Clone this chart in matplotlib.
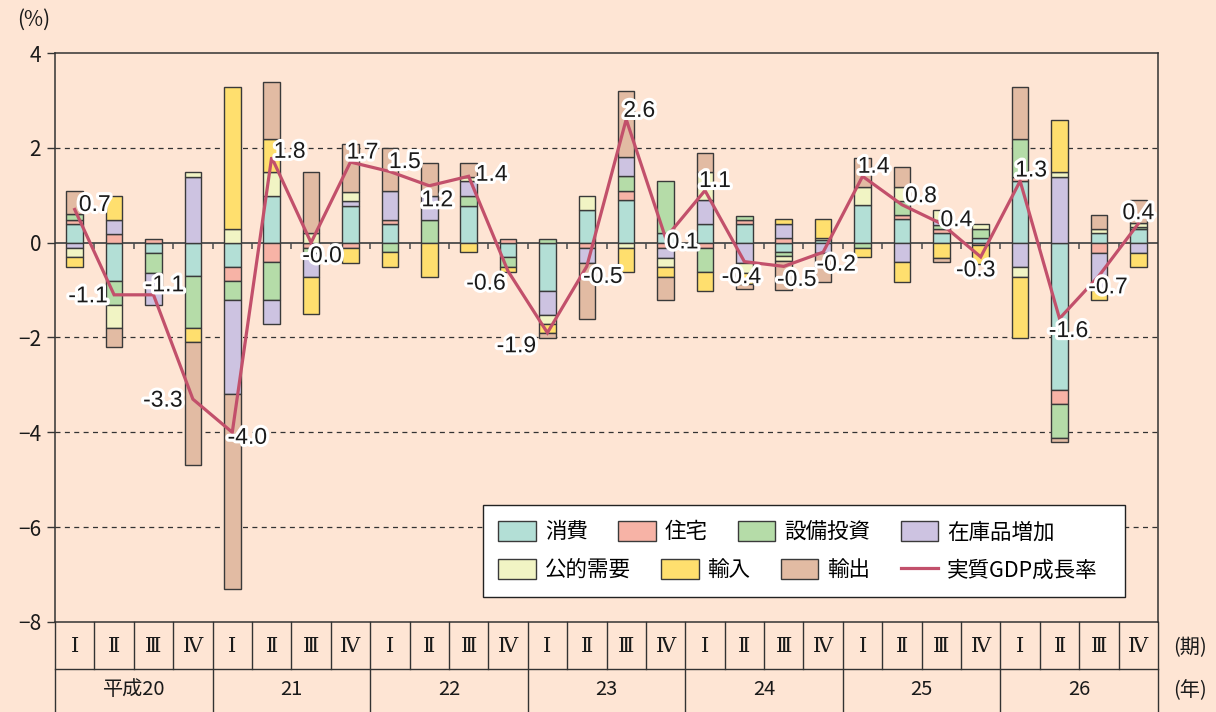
import matplotlib
matplotlib.use('Agg')
import matplotlib.pyplot as plt
from matplotlib.patches import Patch, Rectangle
from matplotlib.lines import Line2D
import matplotlib.patheffects as pe
import numpy as np

plt.rcParams['font.family'] = ['Noto Sans CJK JP', 'DejaVu Sans']

# ---------------- data ----------------
quarters = ['Ⅰ', 'Ⅱ', 'Ⅲ', 'Ⅳ'] * 7
years = ['平成20', '21', '22', '23', '24', '25', '26']

consumption = [0.39, -0.80, -0.21, -0.70, -0.51, 0.99, 0.00, 0.77, 0.39, 0.00, 0.78, -0.31, -1.01, 0.69,
               0.89, 0.20, 0.39, 0.39, -0.19, 0.05, 0.79, 0.49, 0.20, 0.09, 1.29, -3.11, 0.20, 0.28]
housing = [0.08, 0.18, 0.08, 0.00, -0.30, -0.40, -0.12, -0.12, 0.08, 0.00, 0.00, 0.08, 0.00, -0.12,
           0.19, -0.12, -0.12, 0.08, 0.09, 0.00, 0.00, 0.09, 0.08, -0.05, 0.09, -0.30, -0.21, 0.00]
capex = [0.13, -0.51, -0.42, -1.11, -0.40, -0.81, -0.10, 0.00, -0.20, 0.48, 0.21, -0.20, 0.08, 0.00,
         0.32, 1.09, -0.49, 0.10, -0.10, 0.00, -0.12, 0.30, 0.10, 0.20, 0.80, -0.70, 0.00, 0.04]
inventory = [-0.12, 0.30, -0.69, 1.39, -1.99, -0.51, -0.50, 0.11, 0.62, 0.51, 0.30, 0.00, -0.51, -0.30,
             0.40, -0.21, 0.50, -0.43, 0.30, -0.21, 0.00, -0.41, 0.10, 0.00, -0.51, 1.38, -0.79, -0.21]
public = [-0.19, -0.49, 0.00, 0.10, 0.29, 0.49, 0.20, 0.19, 0.00, 0.00, 0.10, 0.00, -0.19, 0.30,
          -0.12, -0.19, 0.61, -0.20, -0.10, 0.05, 0.39, 0.30, 0.21, 0.10, -0.21, 0.10, 0.08, 0.09]
imports = [-0.21, 0.51, 0.00, -0.28, 3.00, 0.70, -0.79, -0.30, -0.32, -0.72, -0.20, -0.10, -0.20, 0.00,
           -0.49, -0.20, -0.40, -0.25, 0.10, 0.40, -0.19, -0.41, -0.33, -0.40, -1.29, 1.11, -0.21, -0.30]
exports = [0.49, -0.39, 0.00, -2.60, -4.11, 1.20, 1.28, 1.01, 0.90, 0.70, 0.30, 0.00, -0.10, -1.20,
           1.39, -0.49, 0.39, -0.10, -0.60, -0.61, 0.60, 0.41, -0.08, 0.00, 1.11, -0.10, 0.30, 0.48]
gdp = [0.7, -1.1, -1.1, -3.3, -4.0, 1.8, -0.0, 1.7, 1.5, 1.2, 1.4, -0.6, -1.9, -0.5,
       2.6, 0.1, 1.1, -0.4, -0.5, -0.2, 1.4, 0.8, 0.4, -0.3, 1.3, -1.6, -0.7, 0.4]

series_names = ['消費', '住宅', '設備投資', '在庫品増加', '公的需要', '輸入', '輸出']
line_name = '実質GDP成長率'

# ---------------- style ----------------
BG = '#FEE5D4'
EC = '#3a3a3a'
colors = ['#B3DFD6', '#F7B3A6', '#B5DCA8', '#CDC3E1', '#F1F4C4', '#FFDF6E', '#E2BBA3']
LINE = '#C2506B'

# label offsets (pixels) relative to each line point
lab_dx = [20, -26, 11, -30, 15, 18, 11, 12, 15, 8, 23, -22, -31, 16, 13, 17, 10, -3, 13, 13, 11, 19, 15, -5, 11, 9, 9, 0]
lab_dy = [5, -1, 10, -1, -5, 6, -13, 10, 10, -14, 2, -12, -13, -10, 9, -4, 10, -15, -13, -12, 10, 9, 4, -13, 11, -12, -11, 11]

W, H = 1216, 712
fig = plt.figure(figsize=(W / 100, H / 100), dpi=100, facecolor=BG)

def fx(px):
    return px / W

def fy(py):
    return 1 - py / H

L, R, T, B = 55, 1158, 53, 622
ax = fig.add_axes([fx(L), fy(B), (R - L) / W, (B - T) / H])
ax.set_facecolor(BG)
n = len(gdp)
x = np.arange(n) + 0.5
ax.set_xlim(0, n)
ax.set_ylim(-8, 4)

# grid
for g in [2, -2, -4, -6]:
    ax.axhline(g, color='#333333', lw=0.9, ls=(0, (4, 3.5)), zorder=1)
ax.axhline(0, color='#4a4a4a', lw=1.3, zorder=2)
ax.vlines(np.arange(1, n), -0.13, 0, color='#4a4a4a', lw=1.1, zorder=2)

# stacked bars
bw = 0.42
pos_base = np.zeros(n)
neg_base = np.zeros(n)
comps = [consumption, housing, capex, inventory, public, imports, exports]
for vals, col in zip(comps, colors):
    v = np.array(vals, dtype=float)
    pm = v > 0
    nm = v < 0
    ax.bar(x[pm], v[pm], bw, bottom=pos_base[pm], color=col, edgecolor=EC, lw=1.0, zorder=3)
    ax.bar(x[nm], v[nm], bw, bottom=neg_base[nm], color=col, edgecolor=EC, lw=1.0, zorder=3)
    pos_base[pm] += v[pm]
    neg_base[nm] += v[nm]

# GDP line
ax.plot(x, gdp, color=LINE, lw=2.3, zorder=5, solid_joinstyle='miter')
for i, v in enumerate(gdp):
    ax.annotate(f"{v:.1f}", xy=(x[i], v), xytext=(lab_dx[i], lab_dy[i]), textcoords='offset pixels',
                ha='center', va='center', fontsize=16.5, family=['Liberation Sans', 'DejaVu Sans'],
                color='#1a1a1a', zorder=6,
                path_effects=[pe.withStroke(linewidth=4.5, foreground='white')])

# axes styling
for s in ax.spines.values():
    s.set_color('#333333')
    s.set_linewidth(1.1)
ax.set_xticks([])
ax.set_yticks(range(-8, 5, 2))
ax.set_yticklabels([str(t).replace('-', '−') for t in range(-8, 5, 2)])
ax.tick_params(axis='y', direction='out', length=6, width=1.0, color='#333333',
               labelsize=15, pad=4, labelcolor='#1a1a1a')

# legend (two rows, frame drawn manually)
fig.patches.append(Rectangle((fx(483), fy(597)), (1125 - 483) / W, (597 - 505) / H,
                             transform=fig.transFigure, facecolor='white', edgecolor='#222222',
                             lw=1.0, zorder=10))
h1 = [Patch(facecolor=colors[k], edgecolor=EC, lw=1.0, label=series_names[k]) for k in range(4)]
h2 = [Patch(facecolor=colors[k], edgecolor=EC, lw=1.0, label=series_names[k]) for k in range(4, 7)]
h2.append(Line2D([0], [0], color=LINE, lw=2.3, label=line_name))
legkw = dict(frameon=False, fontsize=15.5, handlelength=1.75, handleheight=1.07, handletextpad=0.42,
             columnspacing=1.4, borderpad=0, borderaxespad=0, ncol=4)
lg1 = fig.legend(handles=h1, loc='center left', bbox_to_anchor=(fx(498), fy(532)), **legkw)
lg2 = fig.legend(handles=h2, loc='center left', bbox_to_anchor=(fx(498), fy(570)), **legkw)
lg1.set_zorder(11)
lg2.set_zorder(11)

# category table below axes
tax = fig.add_axes([fx(L), 0, (R - L) / W, (H - B) / H])
tax.set_xlim(0, n)
tax.set_ylim(0, H - B)
tax.axis('off')
tax.patch.set_alpha(0)
mid = H - 669  # y of separator inside table axes
top = H - B
lc = '#333333'
tax.plot([0, n], [mid, mid], color=lc, lw=1.0, clip_on=False)
for b in range(0, n + 1):
    if b % 4 == 0:
        tax.plot([b, b], [0, top], color=lc, lw=1.0, clip_on=False)
    else:
        tax.plot([b, b], [mid, top], color=lc, lw=1.0, clip_on=False)
for i, q in enumerate(quarters):
    tax.text(i + 0.5, (mid + top) / 2 - 1, q, ha='center', va='center', fontsize=15,
             family=['DejaVu Serif', 'Noto Sans CJK JP'], color='#1a1a1a')
for j, yname in enumerate(years):
    tax.text(4 * j + 2, mid / 2 + 1, yname, ha='center', va='center', fontsize=14.5, color='#1a1a1a')

fig.text(fx(1190), fy(648), '(期)', ha='center', va='center', fontsize=14.5, color='#1a1a1a')
fig.text(fx(1190), fy(691), '(年)', ha='center', va='center', fontsize=14.5, color='#1a1a1a')
fig.text(fx(34), fy(20), '(%)', ha='center', va='center', fontsize=15, color='#1a1a1a')

fig.savefig('out.png', dpi=100, facecolor=BG)
